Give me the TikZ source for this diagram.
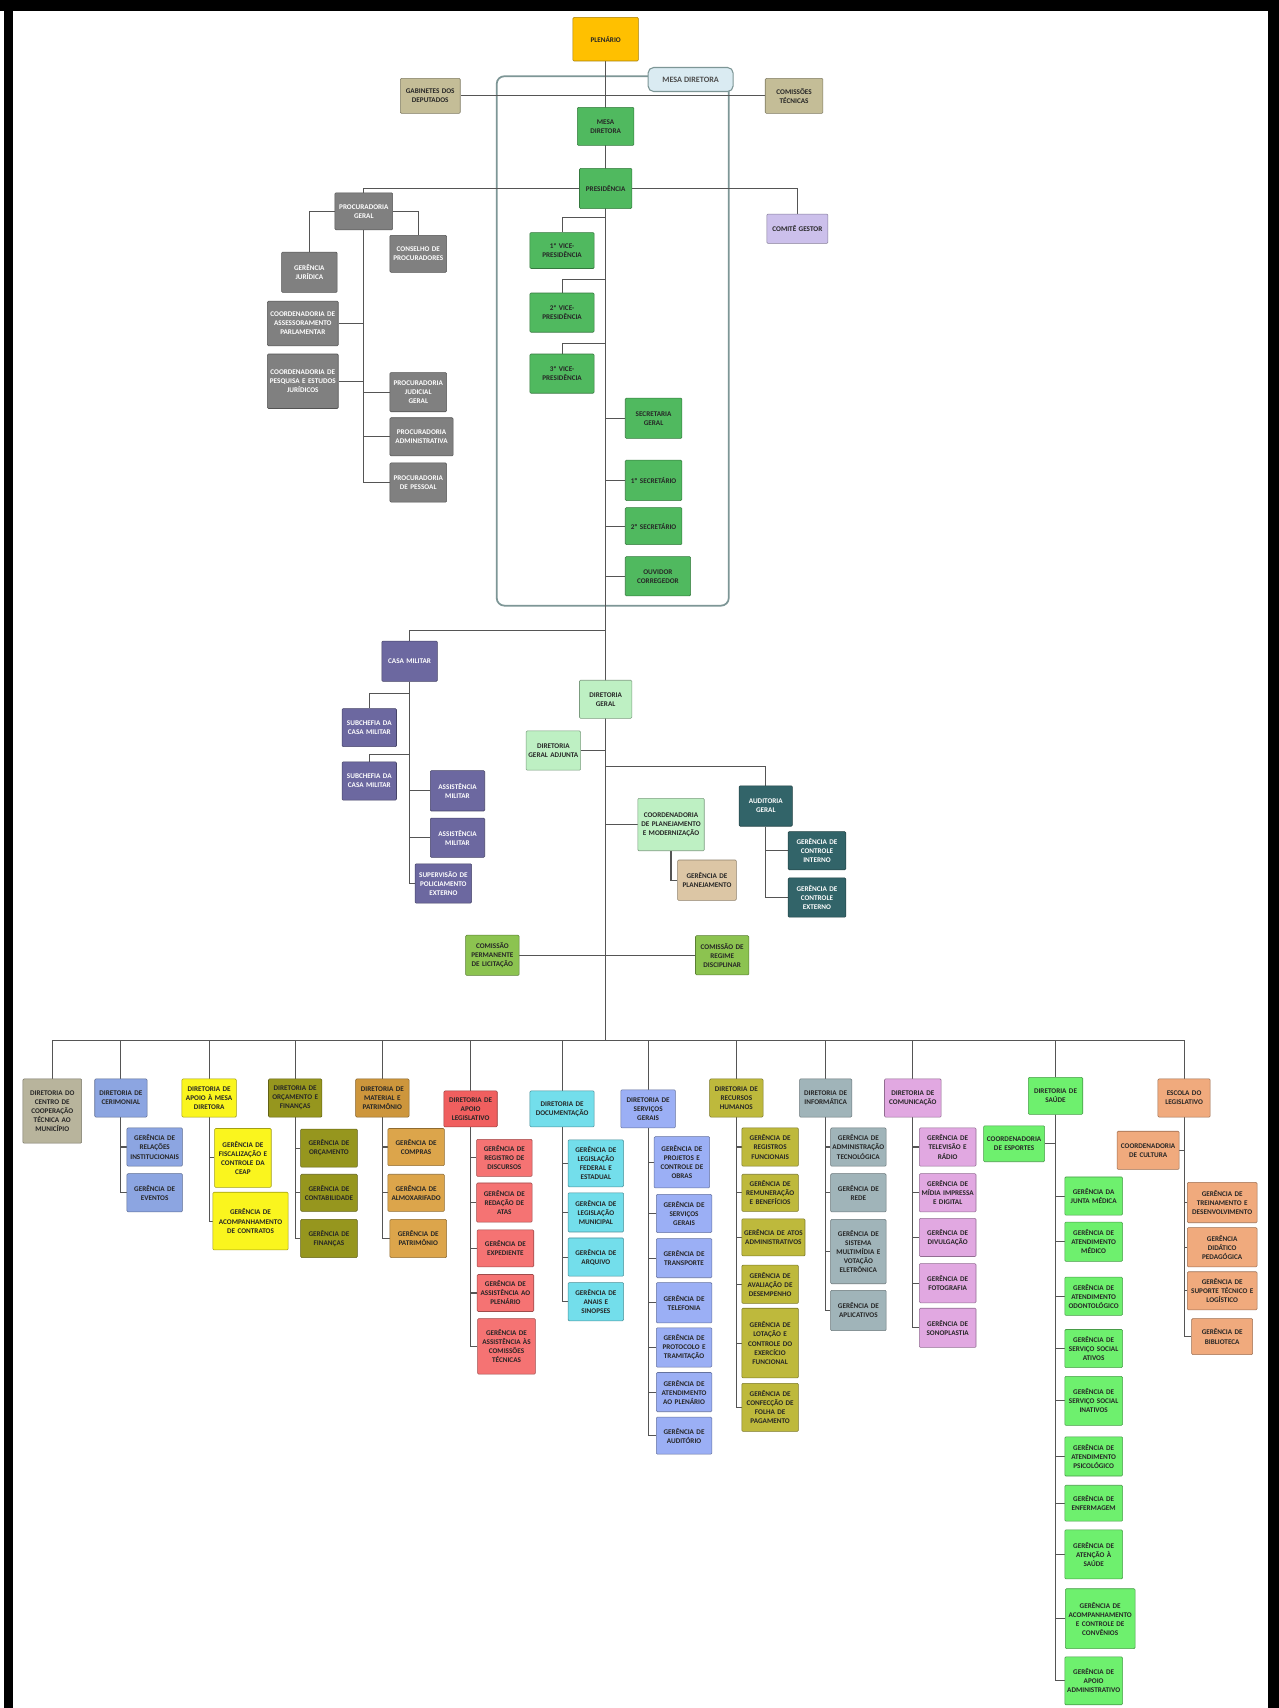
\documentclass[tikz,border=0pt]{standalone}
\usepackage{fontspec}
\setmainfont{Carlito}
\usetikzlibrary{backgrounds}

\definecolor{ouro}{RGB}{255,192,0}
\definecolor{caqui}{RGB}{196,189,151}
\definecolor{verdemesa}{RGB}{80,185,95}
\definecolor{lilas}{RGB}{204,192,235}
\definecolor{cinza}{RGB}{128,128,128}
\definecolor{militar}{RGB}{108,104,160}
\definecolor{verdeclaro}{RGB}{190,240,195}
\definecolor{auditor}{RGB}{50,100,105}
\definecolor{bege}{RGB}{220,198,165}
\definecolor{oliva}{RGB}{140,195,80}
\definecolor{cooper}{RGB}{184,180,156}
\definecolor{cerim}{RGB}{140,165,225}
\definecolor{amarelo}{RGB}{250,245,30}
\definecolor{orcam}{RGB}{150,150,30}
\definecolor{mater}{RGB}{205,150,60}
\definecolor{materg}{RGB}{220,165,75}
\definecolor{legis}{RGB}{240,95,95}
\definecolor{legisg}{RGB}{245,115,115}
\definecolor{docum}{RGB}{115,222,235}
\definecolor{servic}{RGB}{155,175,245}
\definecolor{rechum}{RGB}{190,185,60}
\definecolor{inform}{RGB}{160,180,185}
\definecolor{comunic}{RGB}{225,168,225}
\definecolor{saude}{RGB}{110,240,110}
\definecolor{escola}{RGB}{240,170,125}
\definecolor{moldura}{RGB}{125,150,150}
\definecolor{rotulo}{RGB}{218,235,242}
\definecolor{linha}{RGB}{85,85,85}

\tikzset{
	caixa/.style={rectangle, rounded corners=1pt, align=center, inner sep=1pt, line width=0.5pt,
		font=\fontsize{6.6}{8.3}\selectfont\bfseries, text=black!85, text width=48pt, minimum height=35pt}, % every box of the chart
	cor/.style={fill=#1, draw=#1!65!black}, % fill and border of one colour
	escura/.style={text=white}, % white text on dark boxes
	largura/.style={text width=#1pt},
	altura/.style={minimum height=#1pt},
	liga/.style={draw=linha, line width=1pt}, % connectors
}

\begin{document}
\begin{tikzpicture}[x=1pt, y=-1pt]
	\useasboundingbox (0,0) rectangle (1174,1568);
	\fill[black] (4,0) rectangle (12,1568);
	\fill[black] (0,0) rectangle (1174,10);
	\fill[black] (1164,0) rectangle (1174,1568);

	% top
	\node[caixa, cor=ouro, largura=58, altura=40] (plen) at (556,36) {PLENÁRIO};
	\node[caixa, cor=caqui, largura=53, altura=32] (gab) at (395,88) {GABINETES DOS\\DEPUTADOS};
	\node[caixa, cor=caqui, largura=51, altura=32] (comt) at (729,88) {COMISSÕES\\TÉCNICAS};
	\node[rectangle, rounded corners=5pt, fill=rotulo, draw=moldura, line width=1pt, minimum width=78pt, minimum height=22pt,
		font=\fontsize{7.5}{9}\selectfont\bfseries, text=black!70] (rot) at (634,73) {MESA DIRETORA};
	\node[caixa, cor=verdemesa, largura=50] (md) at (556,116) {MESA\\DIRETORA};
	\node[caixa, cor=verdemesa, largura=46, altura=37] (pres) at (556,173) {PRESIDÊNCIA};
	\node[caixa, cor=lilas, largura=54, altura=27] (cg) at (732,210) {COMITÊ GESTOR};
	\node[caixa, cor=verdemesa, largura=57, altura=33] (vp1) at (516,230) {1ª VICE-\\PRESIDÊNCIA};
	\node[caixa, cor=verdemesa, largura=57, altura=36] (vp2) at (516,287) {2ª VICE-\\PRESIDÊNCIA};
	\node[caixa, cor=verdemesa, largura=57, altura=36] (vp3) at (516,343) {3ª VICE-\\PRESIDÊNCIA};
	\node[caixa, cor=verdemesa, largura=50, altura=37] (sg) at (600,384) {SECRETARIA\\GERAL};
	\node[caixa, cor=verdemesa, largura=50, altura=37] (s1) at (600,441) {1º SECRETÁRIO};
	\node[caixa, cor=verdemesa, largura=50, altura=34] (s2) at (600,483) {2º SECRETÁRIO};
	\node[caixa, cor=verdemesa, largura=58, altura=36] (ouv) at (604,529) {OUVIDOR\\CORREGEDOR};

	% procuradoria
	\node[caixa, cor=cinza, escura, largura=51, altura=34] (pg) at (334,194) {PROCURADORIA\\GERAL};
	\node[caixa, cor=cinza, escura, largura=50, altura=34] (cp) at (384,233) {CONSELHO DE\\PROCURADORES};
	\node[caixa, cor=cinza, escura, largura=49, altura=37] (gj) at (284,250) {GERÊNCIA\\JURÍDICA};
	\node[caixa, cor=cinza, escura, largura=63, altura=41] (cap) at (278,297) {COORDENADORIA DE\\ASSESSORAMENTO\\PARLAMENTAR};
	\node[caixa, cor=cinza, escura, largura=63, altura=50] (cpe) at (278,350) {COORDENADORIA DE\\PESQUISA E ESTUDOS\\JURÍDICOS};
	\node[caixa, cor=cinza, escura, largura=50, altura=36] (pjud) at (384,360) {PROCURADORIA\\JUDICIAL\\GERAL};
	\node[caixa, cor=cinza, escura, largura=56, altura=35] (padm) at (387,401) {PROCURADORIA\\ADMINISTRATIVA};
	\node[caixa, cor=cinza, escura, largura=50, altura=36] (ppes) at (384,443) {PROCURADORIA\\DE PESSOAL};

	% casa militar
	\node[caixa, cor=militar, escura, largura=49, altura=37] (cm) at (376,607) {CASA MILITAR};
	\node[caixa, cor=militar, escura, largura=48] (sc1) at (339,668) {SUBCHEFIA DA\\CASA MILITAR};
	\node[caixa, cor=militar, escura, largura=48] (sc2) at (339,717) {SUBCHEFIA DA\\CASA MILITAR};
	\node[caixa, cor=militar, escura, largura=48, altura=37] (am1) at (420,726) {ASSISTÊNCIA\\MILITAR};
	\node[caixa, cor=militar, escura, largura=48, altura=36] (am2) at (420,769) {ASSISTÊNCIA\\MILITAR};
	\node[caixa, cor=militar, escura, largura=50, altura=36] (spe) at (407,811) {SUPERVISÃO DE\\POLICIAMENTO\\EXTERNO};

	% diretoria geral
	\node[caixa, cor=verdeclaro, largura=46] (dg) at (556,642) {DIRETORIA\\GERAL};
	\node[caixa, cor=verdeclaro, largura=48, altura=36] (dga) at (508,689) {DIRETORIA\\GERAL ADJUNTA};
	\node[caixa, cor=auditor, escura, largura=47, altura=37] (ag) at (703,740) {AUDITORIA\\GERAL};
	\node[caixa, cor=auditor, escura, largura=51] (gci1) at (750,781) {GERÊNCIA DE\\CONTROLE\\INTERNO};
	\node[caixa, cor=auditor, escura, largura=51, altura=36] (gci2) at (750,824) {GERÊNCIA DE\\CONTROLE\\EXTERNO};
	\node[caixa, cor=verdeclaro, largura=59, altura=48] (cpm) at (616,757) {COORDENADORIA\\DE PLANEJAMENTO\\E MODERNIZAÇÃO};
	\node[caixa, cor=bege, largura=52, altura=37] (gpl) at (649,808) {GERÊNCIA DE\\PLANEJAMENTO};
	\node[caixa, cor=oliva, largura=47, altura=37] (cpl) at (452,877) {COMISSÃO\\PERMANENTE\\DE LICITAÇÃO};
	\node[caixa, cor=oliva, largura=47, altura=36] (crd) at (663,877) {COMISSÃO DE\\REGIME\\DISCIPLINAR};

	% diretorias
	\node[caixa, cor=cooper, largura=52, altura=59] (dcct) at (48,1020) {DIRETORIA DO\\CENTRO DE\\COOPERAÇÃO\\TÉCNICA AO\\MUNICÍPIO};
	\node[caixa, cor=cerim, largura=46] (dcer) at (111,1008) {DIRETORIA DE\\CERIMONIAL};
	\node[caixa, cor=amarelo, largura=48] (dam) at (192,1008) {DIRETORIA DE\\APOIO À MESA\\DIRETORA};
	\node[caixa, cor=orcam, largura=47] (dof) at (271,1008) {DIRETORIA DE\\ORÇAMENTO E\\FINANÇAS};
	\node[caixa, cor=mater, largura=47] (dmp) at (351,1008) {DIRETORIA DE\\MATERIAL E\\PATRIMÔNIO};
	\node[caixa, cor=legis, largura=47, altura=33] (dal) at (432,1018) {DIRETORIA DE\\APOIO\\LEGISLATIVO};
	\node[caixa, cor=docum, largura=57, altura=33] (ddoc) at (516,1018) {DIRETORIA DE\\DOCUMENTAÇÃO};
	\node[caixa, cor=servic, largura=48] (dsg) at (595,1018) {DIRETORIA DE\\SERVIÇOS\\GERAIS};
	\node[caixa, cor=rechum, largura=47] (drh) at (676,1008) {DIRETORIA DE\\RECURSOS\\HUMANOS};
	\node[caixa, cor=inform, largura=46] (dinf) at (758,1008) {DIRETORIA DE\\INFORMÁTICA};
	\node[caixa, cor=comunic, largura=50] (dcom) at (838,1008) {DIRETORIA DE\\COMUNICAÇÃO};
	\node[caixa, cor=saude, largura=48, altura=34] (dsau) at (969,1006) {DIRETORIA DE\\SAÚDE};
	\node[caixa, cor=escola, largura=46] (esc) at (1087,1008) {ESCOLA DO\\LEGISLATIVO};

	% gerencias
	\node[caixa, cor=cerim, largura=49] (gri) at (142,1053) {GERÊNCIA DE\\RELAÇÕES\\INSTITUCIONAIS};
	\node[caixa, cor=cerim, largura=49] (gev) at (142,1095) {GERÊNCIA DE\\EVENTOS};
	\node[caixa, cor=amarelo, largura=50, altura=54] (gfc) at (223,1063) {GERÊNCIA DE\\FISCALIZAÇÃO E\\CONTROLE DA\\CEAP};
	\node[caixa, cor=amarelo, largura=67, altura=53] (gac) at (230,1121) {GERÊNCIA DE\\ACOMPANHAMENTO\\DE CONTRATOS};
	\node[caixa, cor=orcam, largura=50] (gor) at (302,1054) {GERÊNCIA DE\\ORÇAMENTO};
	\node[caixa, cor=orcam, largura=50, altura=34] (gcon) at (302,1095) {GERÊNCIA DE\\CONTABILIDADE};
	\node[caixa, cor=orcam, largura=50] (gfin) at (302,1137) {GERÊNCIA DE\\FINANÇAS};
	\node[caixa, cor=materg, largura=50, altura=34] (gcomp) at (382,1053) {GERÊNCIA DE\\COMPRAS};
	\node[caixa, cor=materg, largura=50, altura=34] (galm) at (382,1095) {GERÊNCIA DE\\ALMOXARIFADO};
	\node[caixa, cor=materg, largura=50] (gpat) at (384,1137) {GERÊNCIA DE\\PATRIMÔNIO};
	\node[caixa, cor=legisg, largura=49, altura=34] (grd) at (463,1063) {GERÊNCIA DE\\REGISTRO DE\\DISCURSOS};
	\node[caixa, cor=legisg, largura=49, altura=36] (gra) at (463,1104) {GERÊNCIA DE\\REDAÇÃO DE\\ATAS};
	\node[caixa, cor=legisg, largura=50, altura=34] (gexp) at (464,1146) {GERÊNCIA DE\\EXPEDIENTE};
	\node[caixa, cor=legisg, largura=50, altura=34] (gap) at (464,1187) {GERÊNCIA DE\\ASSISTÊNCIA AO\\PLENÁRIO};
	\node[caixa, cor=legisg, largura=51, altura=51] (gact) at (465,1236) {GERÊNCIA DE\\ASSISTÊNCIA ÀS\\COMISSÕES\\TÉCNICAS};
	\node[caixa, cor=docum, largura=49, altura=43] (glfe) at (547,1068) {GERÊNCIA DE\\LEGISLAÇÃO\\FEDERAL E\\ESTADUAL};
	\node[caixa, cor=docum, largura=49, altura=36] (glm) at (547,1113) {GERÊNCIA DE\\LEGISLAÇÃO\\MUNICIPAL};
	\node[caixa, cor=docum, largura=49] (garq) at (547,1154) {GERÊNCIA DE\\ARQUIVO};
	\node[caixa, cor=docum, largura=49] (gans) at (547,1195) {GERÊNCIA DE\\ANAIS E\\SINOPSES};
	\node[caixa, cor=servic, largura=49, altura=47] (gpco) at (626,1067) {GERÊNCIA DE\\PROJETOS E\\CONTROLE DE\\OBRAS};
	\node[caixa, cor=servic, largura=49] (gsg) at (628,1114) {GERÊNCIA DE\\SERVIÇOS\\GERAIS};
	\node[caixa, cor=servic, largura=49, altura=36] (gtr) at (628,1155) {GERÊNCIA DE\\TRANSPORTE};
	\node[caixa, cor=servic, largura=49, altura=37] (gtel) at (628,1196) {GERÊNCIA DE\\TELEFONIA};
	\node[caixa, cor=servic, largura=49, altura=36] (gpt) at (628,1237) {GERÊNCIA DE\\PROTOCOLO E\\TRAMITAÇÃO};
	\node[caixa, cor=servic, largura=49, altura=36] (gatp) at (628,1278) {GERÊNCIA DE\\ATENDIMENTO\\AO PLENÁRIO};
	\node[caixa, cor=servic, largura=49, altura=34] (gaud) at (628,1318) {GERÊNCIA DE\\AUDITÓRIO};
	\node[caixa, cor=rechum, largura=50] (grf) at (707,1053) {GERÊNCIA DE\\REGISTROS\\FUNCIONAIS};
	\node[caixa, cor=rechum, largura=50, altura=34] (grb) at (707,1095) {GERÊNCIA DE\\REMUNERAÇÃO\\E BENEFÍCIOS};
	\node[caixa, cor=rechum, largura=56, altura=34] (gaa) at (710,1136) {GERÊNCIA DE ATOS\\ADMINISTRATIVOS};
	\node[caixa, cor=rechum, largura=50] (gad) at (707,1179) {GERÊNCIA DE\\AVALIAÇÃO DE\\DESEMPENHO};
	\node[caixa, cor=rechum, largura=50, altura=64] (glc) at (707,1233) {GERÊNCIA DE\\LOTAÇÃO E\\CONTROLE DO\\EXERCÍCIO\\FUNCIONAL};
	\node[caixa, cor=rechum, largura=50, altura=44] (gfp) at (707,1292) {GERÊNCIA DE\\CONFECÇÃO DE\\FOLHA DE\\PAGAMENTO};
	\node[caixa, cor=inform, largura=49] (gat) at (788,1053) {GERÊNCIA DE\\ADMINISTRAÇÃO\\TECNOLÓGICA};
	\node[caixa, cor=inform, largura=49] (grede) at (788,1095) {GERÊNCIA DE\\REDE};
	\node[caixa, cor=inform, largura=49, altura=59] (gsm) at (788,1149) {GERÊNCIA DE\\SISTEMA\\MULTIMÍDIA E\\VOTAÇÃO\\ELETRÔNICA};
	\node[caixa, cor=inform, largura=49, altura=37] (gapl) at (788,1203) {GERÊNCIA DE\\APLICATIVOS};
	\node[caixa, cor=comunic, largura=50] (gtv) at (870,1053) {GERÊNCIA DE\\TELEVISÃO E\\RÁDIO};
	\node[caixa, cor=comunic, largura=50] (gmi) at (870,1095) {GERÊNCIA DE\\MÍDIA IMPRESSA\\E DIGITAL};
	\node[caixa, cor=comunic, largura=50] (gdiv) at (870,1136) {GERÊNCIA DE\\DIVULGAÇÃO};
	\node[caixa, cor=comunic, largura=50, altura=36] (gfot) at (870,1178) {GERÊNCIA DE\\FOTOGRAFIA};
	\node[caixa, cor=comunic, largura=50, altura=36] (gson) at (870,1219) {GERÊNCIA DE\\SONOPLASTIA};
	\node[caixa, cor=saude, largura=54, altura=33] (cesp) at (931,1050) {COORDENADORIA\\DE ESPORTES};
	\node[caixa, cor=saude, largura=51] (gjm) at (1004,1098) {GERÊNCIA DA\\JUNTA MÉDICA};
	\node[caixa, cor=saude, largura=51, altura=36] (gam) at (1004,1140) {GERÊNCIA DE\\ATENDIMENTO\\MÉDICO};
	\node[caixa, cor=saude, largura=51] (gao) at (1004,1190) {GERÊNCIA DE\\ATENDIMENTO\\ODONTOLÓGICO};
	\node[caixa, cor=saude, largura=51] (gssa) at (1004,1238) {GERÊNCIA DE\\SERVIÇO SOCIAL\\ATIVOS};
	\node[caixa, cor=saude, largura=51, altura=45] (gssi) at (1004,1286) {GERÊNCIA DE\\SERVIÇO SOCIAL\\INATIVOS};
	\node[caixa, cor=saude, largura=51, altura=36] (gaps) at (1004,1337) {GERÊNCIA DE\\ATENDIMENTO\\PSICOLÓGICO};
	\node[caixa, cor=saude, largura=51, altura=33] (genf) at (1004,1380) {GERÊNCIA DE\\ENFERMAGEM};
	\node[caixa, cor=saude, largura=51, altura=45] (gats) at (1004,1427) {GERÊNCIA DE\\ATENÇÃO À\\SAÚDE};
	\node[caixa, cor=saude, largura=62, altura=55] (gacc) at (1010,1486) {GERÊNCIA DE\\ACOMPANHAMENTO\\E CONTROLE DE\\CONVÊNIOS};
	\node[caixa, cor=saude, largura=51, altura=44] (gapa) at (1004,1543) {GERÊNCIA DE\\APOIO\\ADMINISTRATIVO};
	\node[caixa, cor=escola, largura=55] (ccul) at (1054,1056) {COORDENADORIA\\DE CULTURA};
	\node[caixa, cor=escola, largura=62, altura=37] (gtd) at (1122,1104) {GERÊNCIA DE\\TREINAMENTO E\\DESENVOLVIMENTO};
	\node[caixa, cor=escola, largura=62, altura=36] (gdp) at (1122,1145) {GERÊNCIA\\DIDÁTICO\\PEDAGÓGICA};
	\node[caixa, cor=escola, largura=62] (gstl) at (1122,1185) {GERÊNCIA DE\\SUPORTE TÉCNICO E\\LOGÍSTICO};
	\node[caixa, cor=escola, largura=54, altura=33] (gbib) at (1122,1227) {GERÊNCIA DE\\BIBLIOTECA};

	\coordinate (jvp1) at (556,200);
	\coordinate (jvp2) at (556,257);
	\coordinate (jvp3) at (556,315);
	\coordinate (jcm) at (556,579);
	\coordinate (jsc1) at (376,637);
	\coordinate (jsc2) at (376,693);
	\coordinate (jag) at (556,704);
	\coordinate (barra) at (556,955);
	\coordinate (bl) at (48,955);
	\coordinate (br) at (1087,955);

	\begin{scope}[on background layer]
		\fill[white] (12,10) rectangle (1164,1568);
		\draw[draw=moldura, line width=1.6pt, rounded corners=7pt] (456,70) rectangle (669,556);
		\draw[liga] (plen.south) -- (barra);
		\draw[liga] (gab.east) -- (comt.west);
		\draw[liga] (pres.west) -| (pg.north);
		\draw[liga] (pres.east) -| (cg.north);
		\draw[liga] (jvp1) -| (vp1.north);
		\draw[liga] (jvp2) -| (vp2.north);
		\draw[liga] (jvp3) -| (vp3.north);
		\draw[liga] (pres.south) |- (sg.west);
		\draw[liga] (pres.south) |- (s1.west);
		\draw[liga] (pres.south) |- (s2.west);
		\draw[liga] (pres.south) |- (ouv.west);
		\draw[liga] (pg.east) -| (cp.north);
		\draw[liga] (pg.west) -| (gj.north);
		\draw[liga] (pg.south) |- (cap.east);
		\draw[liga] (pg.south) |- (cpe.east);
		\draw[liga] (pg.south) |- (pjud.west);
		\draw[liga] (pg.south) |- (padm.west);
		\draw[liga] (pg.south) |- (ppes.west);
		\draw[liga] (jcm) -| (cm.north);
		\draw[liga] (jsc1) -| (sc1.north);
		\draw[liga] (jsc2) -| (sc2.north);
		\draw[liga] (cm.south) |- (am1.west);
		\draw[liga] (cm.south) |- (am2.west);
		\draw[liga] (cm.south) |- (spe.west);
		\draw[liga] (dg.south) |- (dga.east);
		\draw[liga] (jag) -| (ag.north);
		\draw[liga] (ag.south) |- (gci1.west);
		\draw[liga] (ag.south) |- (gci2.west);
		\draw[liga] (dg.south) |- (cpm.west);
		\draw[liga] (cpm.south) |- (gpl.west);
		\draw[liga] (cpl.east) -- (crd.west);
		\draw[liga] (bl) -- (br);
		\draw[liga] (dcct.north) -- (dcct.north |- bl);
		\draw[liga] (dcer.north) -- (dcer.north |- bl);
		\draw[liga] (dam.north) -- (dam.north |- bl);
		\draw[liga] (dof.north) -- (dof.north |- bl);
		\draw[liga] (dmp.north) -- (dmp.north |- bl);
		\draw[liga] (dal.north) -- (dal.north |- bl);
		\draw[liga] (ddoc.north) -- (ddoc.north |- bl);
		\draw[liga] (dsg.north) -- (dsg.north |- bl);
		\draw[liga] (drh.north) -- (drh.north |- bl);
		\draw[liga] (dinf.north) -- (dinf.north |- bl);
		\draw[liga] (dcom.north) -- (dcom.north |- bl);
		\draw[liga] (dsau.north) -- (dsau.north |- bl);
		\draw[liga] (esc.north) -- (esc.north |- bl);
		\draw[liga] (dcer.south) |- (gri.west);
		\draw[liga] (dcer.south) |- (gev.west);
		\draw[liga] (dam.south) |- (gfc.west);
		\draw[liga] (dam.south) |- (gac.west);
		\draw[liga] (dof.south) |- (gor.west);
		\draw[liga] (dof.south) |- (gcon.west);
		\draw[liga] (dof.south) |- (gfin.west);
		\draw[liga] (dmp.south) |- (gcomp.west);
		\draw[liga] (dmp.south) |- (galm.west);
		\draw[liga] (dmp.south) |- (gpat.west);
		\draw[liga] (dal.south) |- (grd.west);
		\draw[liga] (dal.south) |- (gra.west);
		\draw[liga] (dal.south) |- (gexp.west);
		\draw[liga] (dal.south) |- (gap.west);
		\draw[liga] (dal.south) |- (gact.west);
		\draw[liga] (ddoc.south) |- (glfe.west);
		\draw[liga] (ddoc.south) |- (glm.west);
		\draw[liga] (ddoc.south) |- (garq.west);
		\draw[liga] (ddoc.south) |- (gans.west);
		\draw[liga] (dsg.south) |- (gpco.west);
		\draw[liga] (dsg.south) |- (gsg.west);
		\draw[liga] (dsg.south) |- (gtr.west);
		\draw[liga] (dsg.south) |- (gtel.west);
		\draw[liga] (dsg.south) |- (gpt.west);
		\draw[liga] (dsg.south) |- (gatp.west);
		\draw[liga] (dsg.south) |- (gaud.west);
		\draw[liga] (drh.south) |- (grf.west);
		\draw[liga] (drh.south) |- (grb.west);
		\draw[liga] (drh.south) |- (gaa.west);
		\draw[liga] (drh.south) |- (gad.west);
		\draw[liga] (drh.south) |- (glc.west);
		\draw[liga] (drh.south) |- (gfp.west);
		\draw[liga] (dinf.south) |- (gat.west);
		\draw[liga] (dinf.south) |- (grede.west);
		\draw[liga] (dinf.south) |- (gsm.west);
		\draw[liga] (dinf.south) |- (gapl.west);
		\draw[liga] (dcom.south) |- (gtv.west);
		\draw[liga] (dcom.south) |- (gmi.west);
		\draw[liga] (dcom.south) |- (gdiv.west);
		\draw[liga] (dcom.south) |- (gfot.west);
		\draw[liga] (dcom.south) |- (gson.west);
		\draw[liga] (dsau.south) |- (cesp.east);
		\draw[liga] (dsau.south) |- (gjm.west);
		\draw[liga] (dsau.south) |- (gam.west);
		\draw[liga] (dsau.south) |- (gao.west);
		\draw[liga] (dsau.south) |- (gssa.west);
		\draw[liga] (dsau.south) |- (gssi.west);
		\draw[liga] (dsau.south) |- (gaps.west);
		\draw[liga] (dsau.south) |- (genf.west);
		\draw[liga] (dsau.south) |- (gats.west);
		\draw[liga] (dsau.south) |- (gacc.west);
		\draw[liga] (dsau.south) |- (gapa.west);
		\draw[liga] (esc.south) |- (ccul.east);
		\draw[liga] (esc.south) |- (gtd.west);
		\draw[liga] (esc.south) |- (gdp.west);
		\draw[liga] (esc.south) |- (gstl.west);
		\draw[liga] (esc.south) |- (gbib.west);
	\end{scope}
\end{tikzpicture}
\end{document}
